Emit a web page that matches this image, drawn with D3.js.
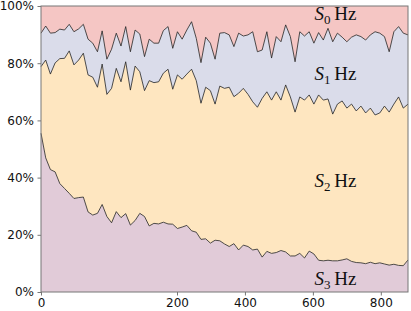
<!DOCTYPE html>
<html>
<head>
<meta charset="utf-8">
<script src="https://cdn.jsdelivr.net/npm/d3@7"></script>
<style>
  body { margin: 0; background: #fff; }
  .tick text { font-family: "DejaVu Sans", sans-serif; font-size: 12px; fill: #111; }
  .lbl { font-family: "Liberation Serif", "DejaVu Serif", serif; font-size: 19px; fill: #111; }
</style>
</head>
<body>
<div id="chart"></div>
<script>
// shares of each state per sample (percent)
const s3 = [55.5, 46.9, 42.8, 42.0, 37.9, 36.2, 34.5, 32.7, 33.0, 33.2, 28.0, 26.9, 27.5, 30.6, 26.4, 24.2, 28.1, 26.0, 27.4, 23.4,
  25.0, 27.5, 26.4, 23.1, 24.0, 23.8, 24.4, 23.8, 23.7, 22.2, 22.7, 23.3, 21.4, 20.9, 18.4, 18.6, 17.1, 18.1, 17.9, 16.8,
  15.9, 16.9, 14.7, 16.4, 15.9, 14.7, 15.0, 12.2, 14.2, 13.5, 13.8, 14.5, 14.0, 12.6, 12.6, 13.5, 11.9, 14.3, 13.3, 11.1,
  10.9, 11.1, 10.9, 10.9, 11.2, 11.6, 10.7, 10.3, 10.2, 9.9, 10.4, 9.9, 10.2, 9.8, 9.4, 9.7, 9.3, 9.2, 11.2];
const s2 = [23.3, 34.2, 33.4, 38.1, 43.7, 45.5, 49.8, 46.7, 48.1, 50.3, 47.9, 48.2, 44.1, 49.1, 42.7, 47.0, 50.1, 47.5, 53.1, 47.2,
  54.0, 49.5, 44.0, 50.8, 49.2, 49.7, 52.1, 54.1, 47.2, 53.7, 51.7, 52.9, 56.5, 53.0, 47.6, 53.0, 53.3, 47.6, 54.1, 54.4,
  55.7, 51.4, 54.8, 54.8, 53.2, 51.8, 49.6, 55.5, 55.8, 53.6, 56.2, 52.6, 58.4, 55.6, 50.3, 54.7, 55.2, 54.6, 52.4, 57.8,
  56.2, 56.4, 51.3, 54.8, 55.6, 52.7, 55.0, 53.0, 54.8, 52.7, 53.9, 52.0, 52.4, 55.2, 53.5, 56.0, 58.9, 55.1, 54.5];
const s1 = [11.7, 11.9, 14.3, 10.6, 10.3, 9.9, 9.3, 11.6, 10.9, 10.1, 12.5, 11.9, 12.4, 11.6, 12.3, 13.7, 12.3, 12.5, 12.3, 13.4,
  12.6, 13.2, 11.9, 14.5, 13.8, 13.5, 14.9, 14.9, 14.3, 15.1, 14.0, 15.4, 16.6, 14.8, 14.2, 17.5, 16.6, 15.7, 18.5, 19.5,
  18.3, 17.5, 21.0, 18.3, 20.8, 24.5, 19.4, 16.9, 21.0, 14.7, 19.3, 20.4, 21.0, 21.1, 17.6, 22.8, 22.4, 22.1, 21.3, 21.8,
  21.0, 24.7, 25.3, 24.8, 22.3, 23.2, 23.4, 26.6, 24.3, 25.5, 25.6, 29.1, 27.9, 24.3, 21.1, 25.3, 24.6, 26.2, 24.2];
const s0 = [9.5, 7.0, 9.5, 9.3, 8.1, 8.4, 6.4, 9.0, 8.0, 6.4, 11.6, 13.0, 16.0, 8.7, 18.6, 15.1, 9.5, 14.0, 7.2, 16.0,
  8.4, 9.8, 17.7, 11.6, 13.0, 13.0, 8.6, 7.2, 14.8, 9.0, 11.6, 8.4, 5.5, 11.3, 19.8, 10.9, 13.0, 18.6, 9.5, 9.3,
  10.1, 14.2, 9.5, 10.5, 10.1, 9.0, 16.0, 15.4, 9.0, 18.2, 10.7, 12.5, 6.6, 10.7, 19.5, 9.0, 10.5, 9.0, 13.0, 9.3,
  11.9, 7.8, 12.5, 9.5, 10.9, 12.5, 10.9, 10.1, 10.7, 11.9, 10.1, 9.0, 9.5, 10.7, 16.0, 9.0, 7.2, 9.5, 10.1];

const seriesKeys = ["S3", "S2", "S1", "S0"];
const seriesColors = ["#e1cbd8", "#fee6c0", "#dadcea", "#f5c6c4"];
const yTicks = [0, 20, 40, 60, 80, 100];
const xTicks = [0, 200, 400, 600, 800];
// label anchor: sample index and percent of each state's text
const labelIdx = [62.6, 62.6, 62.6, 62.6];
const labelPct = [2.4, 36.6, 74.1, 95.1];

const svgWidth = 411, svgHeight = 311;
const margin = {top: 6, right: 3, bottom: 19, left: 41};
const width = svgWidth - margin.left - margin.right;
const height = svgHeight - margin.top - margin.bottom;

const rows = s3.map((v, i) => ({S3: v, S2: s2[i], S1: s1[i], S0: s0[i]}));
const stacked = d3.stack().keys(seriesKeys)(rows);

const svg = d3.select("#chart").append("svg")
    .attr("width", svgWidth)
    .attr("height", svgHeight);
const g = svg.append("g").attr("transform", `translate(${margin.left},${margin.top})`);

const x = d3.scaleLinear().domain([0, rows.length - 1]).range([0, width]);
const y = d3.scaleLinear().domain([0, 100]).range([height, 0]);
// the tick axis is not uniform: the first 200 units take more room
const xAxisScale = d3.scaleLinear().domain([0, 200, 880]).range([0, width * 0.3706, width]);

const area = d3.area()
    .x((d, i) => x(i))
    .y0(d => y(d[0]))
    .y1(d => y(d[1]));

g.selectAll("path.layer")
    .data(stacked)
    .enter()
    .append("path")
    .attr("class", "layer")
    .attr("fill", (d, i) => seriesColors[i])
    .attr("d", area);

// boundary lines between the layers
const line = d3.line()
    .x((d, i) => x(i))
    .y(d => y(d[1]));

g.selectAll("path.edge")
    .data(stacked.slice(0, 3))
    .enter()
    .append("path")
    .attr("class", "edge")
    .attr("fill", "none")
    .attr("stroke", "#222")
    .attr("stroke-width", 0.8)
    .attr("stroke-linejoin", "miter")
    .attr("d", line);

// state labels
seriesKeys.forEach((k, i) => {
    const t = g.append("text")
        .attr("class", "lbl")
        .attr("x", x(labelIdx[i]))
        .attr("y", y(labelPct[i]))
        .attr("text-anchor", "middle");
    t.append("tspan").attr("font-style", "italic").text("S");
    t.append("tspan").attr("dy", 4).attr("font-size", "13px").text(k.slice(1));
    t.append("tspan").attr("dy", -4).text("\u2009Hz");
});

// axes
const yAxis = d3.axisLeft(y).tickValues(yTicks).tickFormat(d => `${d}%`).tickSize(3.5).tickPadding(3.5);
const xAxis = d3.axisBottom(xAxisScale).tickValues(xTicks).tickFormat(d3.format("d")).tickSize(3.5).tickPadding(2.5);

const ya = g.append("g").call(yAxis);
const xa = g.append("g").attr("transform", `translate(0,${height})`).call(xAxis);
[ya, xa].forEach(a => {
    a.select(".domain").remove();
    a.selectAll(".tick line").attr("stroke", "#777");
});

// frame
g.append("rect")
    .attr("x", 0).attr("y", 0)
    .attr("width", width).attr("height", height)
    .attr("fill", "none")
    .attr("stroke", "#777")
    .attr("stroke-width", 1);
</script>
</body>
</html>
